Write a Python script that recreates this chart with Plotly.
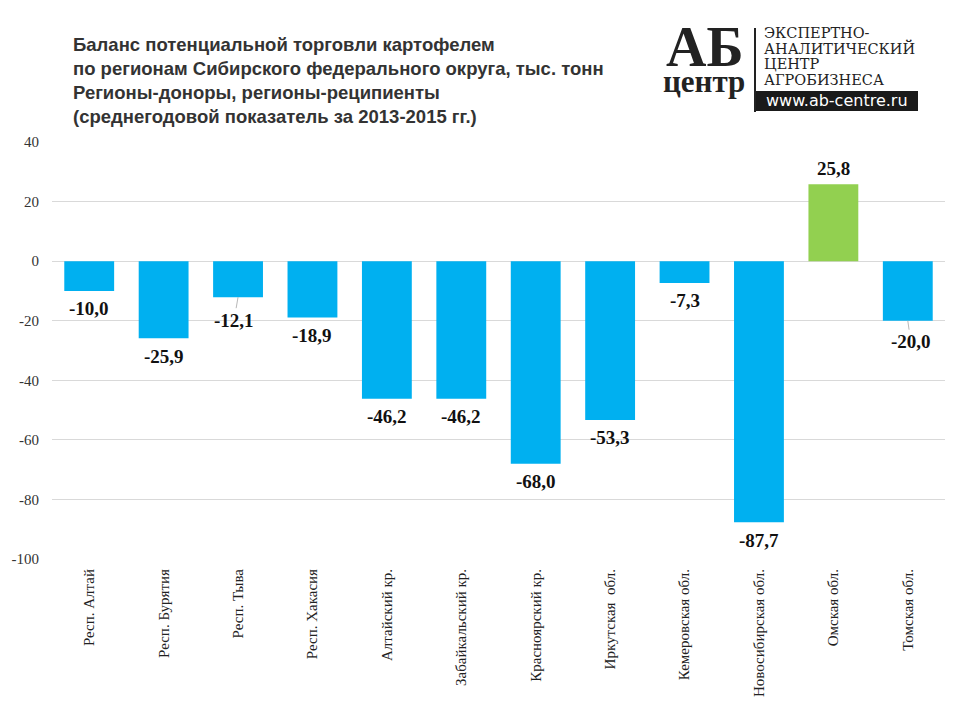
import plotly.graph_objects as go

regions = ["Респ. Алтай", "Респ. Бурятия", "Респ. Тыва", "Респ. Хакасия",
           "Алтайский кр.", "Забайкальский кр.", "Красноярский кр.",
           "Иркутская  обл.", "Кемеровская обл.", "Новосибирская обл.",
           "Омская обл.", "Томская обл."]
balance = [-10.0, -25.9, -12.1, -18.9, -46.2, -46.2, -68.0, -53.3, -7.3, -87.7, 25.8, -20.0]
y_ticks = [40, 20, 0, -20, -40, -60, -80, -100]

BLUE = "#00B0F0"
GREEN = "#92D050"
colors = [GREEN if v > 0 else BLUE for v in balance]

fig = go.Figure()
fig.add_trace(go.Bar(x=regions, y=balance, marker=dict(color=colors, line=dict(width=0)),
                     hoverinfo="x+y", showlegend=False))

LABEL_FONT = dict(family="Liberation Serif", size=19, color="#111")
# data labels
leader = {"Респ. Тыва": (-4, 23), "Томская обл.": (3, 21)}
for r, v in zip(regions, balance):
    txt = "<b>" + f"{v:.1f}".replace(".", ",") + "</b>"
    if r in leader:
        ax, ay = leader[r]
        fig.add_annotation(x=r, y=v, text=txt, showarrow=True, arrowhead=0, arrowwidth=0.8,
                           arrowcolor="#a6a6a6", ax=ax, ay=ay, standoff=0,
                           font=LABEL_FONT, xanchor="center", yanchor="middle")
    else:
        fig.add_annotation(x=r, y=v, text=txt, showarrow=False,
                           yshift=(-18 if v < 0 else 16),
                           font=LABEL_FONT, xanchor="center", yanchor="middle")

# plot area in screen px: x 52..945, y 142..559
def px(X):
    return (X - 52) / 893

def py(Y):
    return (559 - Y) / 417

title_lines = ["Баланс потенциальной торговли картофелем",
               "по регионам Сибирского федерального округа, тыс. тонн",
               "Регионы-доноры, регионы-реципиенты",
               "(среднегодовой показатель за 2013-2015 гг.)"]
fig.add_annotation(xref="paper", yref="paper", x=0.0213, y=1.0, yshift=110,
                   text="<b>" + "<br>".join(title_lines) + "</b>", showarrow=False,
                   xanchor="left", yanchor="top", align="left",
                   font=dict(family="Liberation Sans", size=18.5, color="#333"))

# logo
fig.add_annotation(xref="paper", yref="paper", x=px(704), y=py(47),
                   text="<b>АБ</b>", showarrow=False, xanchor="center", yanchor="middle",
                   font=dict(family="Liberation Serif", size=56, color="#222"))
fig.add_annotation(xref="paper", yref="paper", x=px(704), y=py(81),
                   text="<b>центр</b>", showarrow=False, xanchor="center", yanchor="middle",
                   font=dict(family="Liberation Serif", size=31, color="#222"))
fig.add_shape(type="line", xref="paper", yref="paper", x0=px(755), x1=px(755),
              y0=py(28), y1=py(112), line=dict(color="#222", width=2))
logo_lines = [("ЭКСПЕРТНО-", 34), ("АНАЛИТИЧЕСКИЙ", 49), ("ЦЕНТР", 65), ("АГРОБИЗНЕСА", 81)]
for t, yc in logo_lines:
    fig.add_annotation(xref="paper", yref="paper", x=px(762), y=py(yc - 1),
                       text=t, showarrow=False, xanchor="left", yanchor="middle",
                       font=dict(family="DejaVu Serif", size=14.5, color="#222"))
fig.add_shape(type="rect", xref="paper", yref="paper", x0=px(756), x1=px(918),
              y0=py(111), y1=py(91), fillcolor="#1a1a1a", line=dict(width=0))
fig.add_annotation(xref="paper", yref="paper", x=px(837), y=py(101),
                   text="www.ab-centre.ru", showarrow=False, xanchor="center", yanchor="middle",
                   font=dict(family="DejaVu Sans", size=16, color="white"))

fig.update_layout(
    width=952, height=712,
    paper_bgcolor="white", plot_bgcolor="white",
    margin=dict(l=44, r=15, t=134, b=161, autoexpand=False),
    bargap=0.33,
    xaxis=dict(tickangle=-90, showgrid=False, showline=False, ticks="",
               ticklabelstandoff=6,
               tickfont=dict(family="Liberation Serif", size=15, color="#222")),
    yaxis=dict(range=[-100, 40], tickvals=y_ticks, ticktext=[str(v) for v in y_ticks],
               showgrid=True, gridcolor="#d9d9d9",
               zeroline=True, zerolinecolor="#d9d9d9", zerolinewidth=1, showline=False,
               ticks="", ticklabelstandoff=12,
               tickfont=dict(family="Liberation Serif", size=15, color="#333")),
)
fig.write_html("out.html")
